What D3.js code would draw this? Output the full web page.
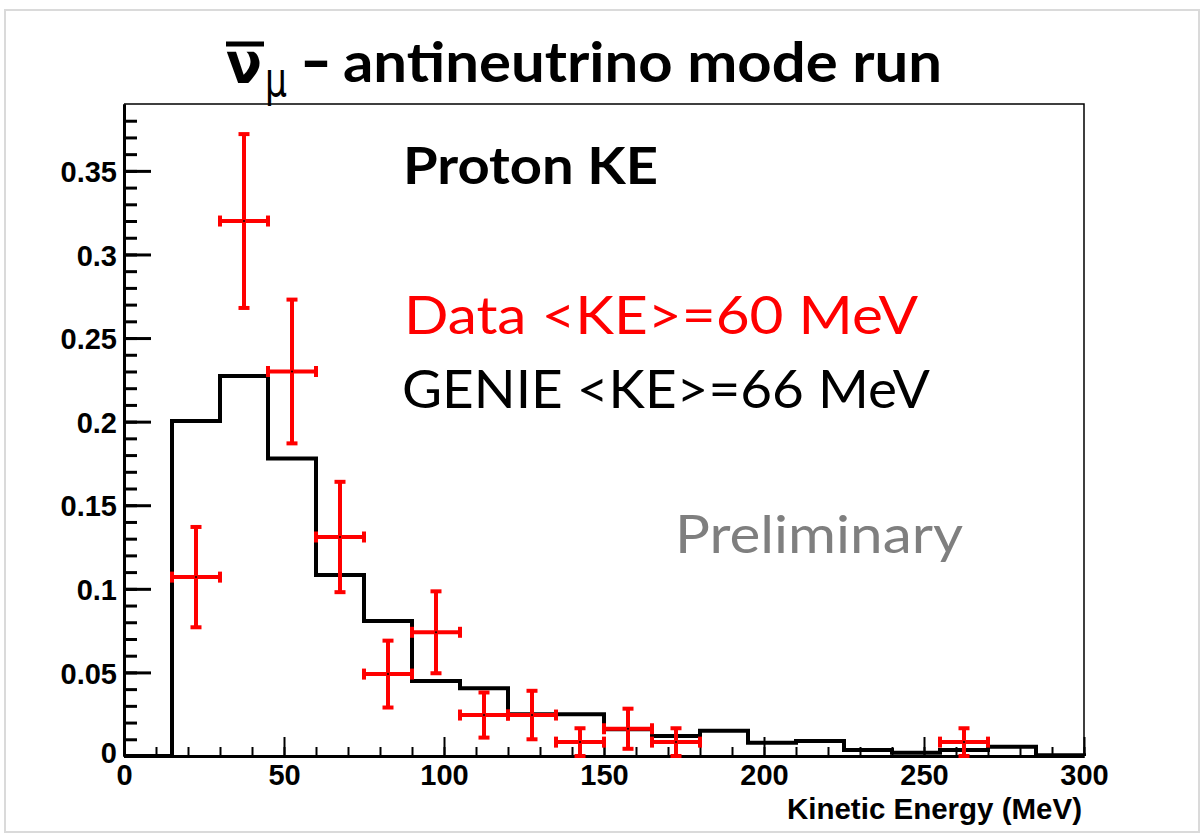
<!DOCTYPE html>
<html>
<head>
<meta charset="utf-8">
<script src="https://cdn.jsdelivr.net/npm/d3@7"></script>
<style>
  html, body { margin: 0; padding: 0; background: #ffffff; }
  svg { display: block; }
</style>
</head>
<body>
<script>
// GENIE prediction: lower edges of 15 MeV bins and normalised content
const genieBinLow = [0, 15, 30, 45, 60, 75, 90, 105, 120, 135, 150, 165, 180, 195, 210, 225, 240, 255, 270, 285];
const genieValues = [0, 0.2004, 0.2273, 0.178, 0.1083, 0.0807, 0.0449, 0.0405, 0.0250, 0.0250, 0.0160, 0.0120, 0.0151, 0.0080, 0.0090, 0.0036, 0.0020, 0.0036, 0.0056, 0.0005];
const binWidth = 15;

// Data points: bin centre, value, vertical error, half bin width
const dataKE     = [22.5, 37.5, 52.5, 67.5, 82.5, 97.5, 112.5, 127.5, 142.5, 157.5, 172.5, 262.5];
const dataValues = [0.107, 0.320, 0.230, 0.131, 0.049, 0.074, 0.0245, 0.0245, 0.0083, 0.0163, 0.0083, 0.0083];
const dataErrors = [0.030, 0.052, 0.043, 0.033, 0.020, 0.0245, 0.0135, 0.0145, 0.0083, 0.012, 0.0083, 0.0083];
const dataXErr   = [7.5, 7.5, 7.5, 7.5, 7.5, 7.5, 7.5, 7.5, 7.5, 7.5, 7.5, 7.5];

// Axis ticks
const xMajorTicks = [0, 50, 100, 150, 200, 250, 300];
const xMinorTicks = d3.range(0, 301, 10);
const yMajorTicks = [0, 0.05, 0.1, 0.15, 0.2, 0.25, 0.3, 0.35];
const yMinorTicks = d3.range(0, 39).map(i => i / 100);

const W = 1203, H = 835;
const svg = d3.select("body").append("svg").attr("width", W).attr("height", H);

svg.append("rect").attr("x", 5).attr("y", 10).attr("width", 1194).attr("height", 822)
  .attr("fill", "#ffffff").attr("stroke", "#dadada").attr("stroke-width", 2);

const x = d3.scaleLinear().domain([0, 300]).range([124, 1084]);
const y = d3.scaleLinear().domain([0, 0.39]).range([756, 104]);

const tickFont = "'Liberation Sans', Arial, Helvetica, sans-serif";
const calFont = "Lato, 'Open Sans', sans-serif";

// thin top and right frame
svg.append("path")
  .attr("d", `M${x(0)},${y(0.39)}H${x(300)}V${y(0)}`)
  .attr("fill", "none").attr("stroke", "#000").attr("stroke-width", 1.5);

// y axis: minor and major ticks pointing into the frame
const yMinor = svg.append("g").attr("transform", `translate(${x(0)},0)`)
  .call(d3.axisRight(y).tickValues(yMinorTicks).tickSize(13).tickSizeOuter(0).tickFormat(""));
const yMajor = svg.append("g").attr("transform", `translate(${x(0)},0)`)
  .call(d3.axisRight(y).tickValues(yMajorTicks).tickSize(27).tickSizeOuter(0).tickFormat(""));
[yMinor, yMajor].forEach(g => {
  g.selectAll("line").attr("stroke", "#000").attr("stroke-width", 3);
  g.select(".domain").attr("stroke", "#000").attr("stroke-width", 3);
});
const yLab = svg.append("g").attr("transform", `translate(${x(0)},0)`)
  .call(d3.axisLeft(y).tickValues(yMajorTicks).tickSize(0).tickPadding(7)
    .tickFormat(d => d3.format("")(+d.toFixed(2))));
yLab.select(".domain").remove();
yLab.selectAll("text")
  .attr("font-family", tickFont).attr("font-weight", "bold").attr("font-size", 29)
  .attr("fill", "#000")
  .attr("dy", d => d === 0 ? "0.24em" : "0.37em");

// x axis: ticks point upward from the bottom edge
const xMinor = svg.append("g").attr("transform", `translate(0,${y(0)})`)
  .call(d3.axisTop(x).tickValues(xMinorTicks).tickSize(9).tickSizeOuter(0).tickFormat(""));
const xMajor = svg.append("g").attr("transform", `translate(0,${y(0)})`)
  .call(d3.axisTop(x).tickValues(xMajorTicks).tickSize(19).tickSizeOuter(0).tickFormat(""));
[xMinor, xMajor].forEach(g => {
  g.selectAll("line").attr("stroke", "#000").attr("stroke-width", 2);
  g.select(".domain").attr("stroke", "#000").attr("stroke-width", 3);
});
const xLab = svg.append("g").attr("transform", `translate(0,${y(0)})`)
  .call(d3.axisBottom(x).tickValues(xMajorTicks).tickSize(0).tickPadding(8.5).tickFormat(d3.format("d")));
xLab.select(".domain").remove();
xLab.selectAll("text")
  .attr("font-family", tickFont).attr("font-weight", "bold").attr("font-size", 29).attr("fill", "#000");

svg.append("text").attr("x", 1082).attr("y", 819).attr("text-anchor", "end")
  .attr("font-family", tickFont).attr("font-weight", "bold").attr("font-size", 29.5)
  .text("Kinetic Energy (MeV)");

// GENIE histogram outline
const histPts = [[0, 0]];
genieBinLow.forEach((lo, i) => {
  histPts.push([lo, genieValues[i]]);
  histPts.push([lo + binWidth, genieValues[i]]);
});
histPts.push([300, 0]);
svg.append("path")
  .attr("d", d3.line().x(d => x(d[0])).y(d => y(d[1]))(histPts))
  .attr("fill", "none").attr("stroke", "#000").attr("stroke-width", 4)
  .attr("stroke-linejoin", "miter");

// data points with error bars
const cap = 5.5;
const pts = svg.append("g").attr("stroke", "#ff0000").attr("stroke-width", 4).attr("fill", "none");
dataKE.forEach((c, i) => {
  const v = dataValues[i], e = dataErrors[i], xe = dataXErr[i];
  const g = pts.append("g");
  const x0 = x(c - xe), x1 = x(c + xe), xc = x(c);
  const yc = y(v), yt = y(v + e), yb = y(Math.max(0, v - e));
  g.append("line").attr("x1", x0).attr("x2", x1).attr("y1", yc).attr("y2", yc);
  g.append("line").attr("x1", xc).attr("x2", xc).attr("y1", yt).attr("y2", yb);
  g.append("line").attr("x1", xc - cap).attr("x2", xc + cap).attr("y1", yt).attr("y2", yt);
  g.append("line").attr("x1", xc - cap).attr("x2", xc + cap).attr("y1", yb).attr("y2", yb);
  g.append("line").attr("x1", x0).attr("x2", x0).attr("y1", yc - cap).attr("y2", yc + cap);
  g.append("line").attr("x1", x1).attr("x2", x1).attr("y1", yc - cap).attr("y2", yc + cap);
  svg.append("circle").attr("cx", xc).attr("cy", yc).attr("r", 1).attr("fill", "#000");
});

// title: anti-muon-neutrino symbol followed by the run description
svg.append("line").attr("x1", 226).attr("x2", 264).attr("y1", 44).attr("y2", 44)
  .attr("stroke", "#000").attr("stroke-width", 5);
svg.append("text").attr("x", 226).attr("y", 83)
  .attr("font-family", "'DejaVu Sans', sans-serif").attr("font-weight", "bold").attr("font-size", 57)
  .attr("textLength", 36).attr("lengthAdjust", "spacingAndGlyphs")
  .text("ν");
svg.append("text").attr("x", 265).attr("y", 96)
  .attr("font-family", "'DejaVu Sans', sans-serif").attr("font-size", 48)
  .attr("textLength", 22).attr("lengthAdjust", "spacingAndGlyphs")
  .text("μ");
svg.append("text").attr("x", 300).attr("y", 86)
  .attr("font-family", calFont).attr("font-weight", "bold").attr("font-size", 72)
  .attr("textLength", 32).attr("lengthAdjust", "spacingAndGlyphs")
  .text("–");
svg.append("text").attr("x", 343).attr("y", 82)
  .attr("font-family", calFont).attr("font-weight", "bold").attr("font-size", 56)
  .attr("textLength", 599).attr("lengthAdjust", "spacingAndGlyphs")
  .text("antineutrino mode run");

// annotations inside the frame
svg.append("text").attr("x", 403).attr("y", 184)
  .attr("font-family", calFont).attr("font-weight", "bold").attr("font-size", 51)
  .attr("textLength", 255).attr("lengthAdjust", "spacingAndGlyphs")
  .text("Proton KE");
svg.append("text").attr("x", 404).attr("y", 334)
  .attr("font-family", calFont).attr("font-size", 52).attr("fill", "#ff0000")
  .attr("textLength", 514).attr("lengthAdjust", "spacingAndGlyphs")
  .text("Data <KE>=60 MeV");
svg.append("text").attr("x", 402).attr("y", 408)
  .attr("font-family", calFont).attr("font-size", 53).attr("fill", "#000")
  .attr("textLength", 528).attr("lengthAdjust", "spacingAndGlyphs")
  .text("GENIE <KE>=66 MeV");
svg.append("text").attr("x", 675).attr("y", 553)
  .attr("font-family", calFont).attr("font-size", 52.5).attr("fill", "#7f7f7f")
  .attr("textLength", 288).attr("lengthAdjust", "spacingAndGlyphs")
  .text("Preliminary");
</script>
</body>
</html>
